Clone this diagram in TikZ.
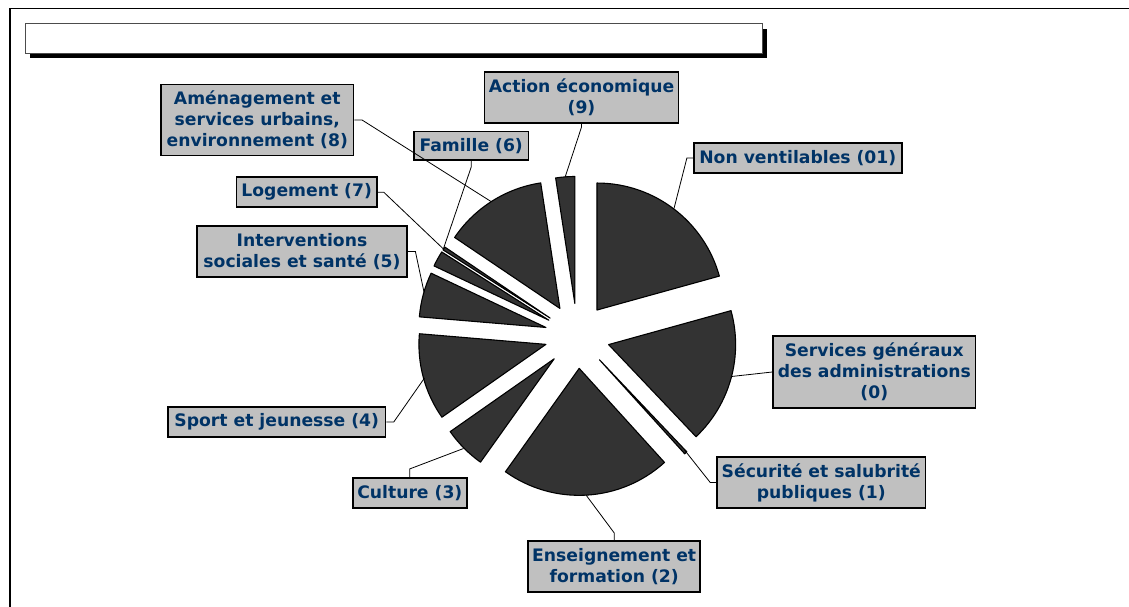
\documentclass[tikz,border=0pt]{standalone}
\usepackage{fontspec}
\setmainfont{DejaVu Sans}
\usetikzlibrary{calc}
\definecolor{navy}{HTML}{003366}
\definecolor{boxgray}{HTML}{C0C0C0}
\definecolor{slicegray}{HTML}{333333}
\newcommand\pieslice[3]{%
  \pgfmathsetmacro\pmid{(#1+#2)/2}%
  \coordinate (#3-tip) at ($(C)+({-\pmid}:32.5)$);%
  \draw[slicest] (#3-tip) -- ++({-#1}:127) arc[start angle={-#1}, end angle={-#2}, radius=127] -- cycle;%
}
\begin{document}
\begin{tikzpicture}[x=1pt,y=-1pt,
  lbl/.style={draw=black,line width=1.8pt,fill=boxgray,text=navy,
    font=\fontsize{17.2}{21}\selectfont\bfseries,align=center,inner sep=0pt},
  lead/.style={draw=black,line width=0.8pt},
  slicest/.style={fill=slicegray,draw=black,line width=1.1pt,line join=round},
  titlebox/.style={draw=gray!60!black,fill=white,line width=1pt,inner sep=0pt}]
\useasboundingbox (0,0) rectangle (1129,607);
\fill[white] (0,0) rectangle (1129,607);
% outer frame
\draw[line width=1.3pt] (10,607) -- (10,8.3) -- (1129,8.3);
% title box with shadow
\fill[black] (30,29) rectangle (767,58.3);
\node[titlebox,minimum width=737pt,minimum height=29.3pt] (title) at (393.5,38.65) {};
% pie
\coordinate (C) at (577.3,335.9);
\pieslice{15.5}{90}{nv}
\pieslice{90}{98.7}{act}
\pieslice{98.7}{146}{ame}
\pieslice{146}{147.5}{fam}
\pieslice{147.5}{154.7}{log}
\pieslice{154.7}{175.2}{int}
\pieslice{175.2}{215}{spo}
\pieslice{215}{234.5}{cul}
\pieslice{234.5}{312.2}{ens}
\pieslice{312.2}{313.5}{sec}
\pieslice{313.5}{375.5}{sg}
% leader end points
\coordinate (e-nv) at (674,208.5);
\coordinate (e-act) at (565.2,176.9);
\coordinate (e-ame) at (491,201.5);
\coordinate (e-fam) at (443.5,248.5);
\coordinate (e-log) at (444,249.5);
\coordinate (e-int) at (424,292);
\coordinate (e-spo) at (424.5,378);
\coordinate (e-cul) at (463.5,448.5);
\coordinate (e-ens) at (586,495);
\coordinate (e-sec) at (684.5,450);
\coordinate (e-sg) at (731.5,376.5);
% labels
\node[lbl,minimum width=208pt,minimum height=29.6pt] (nv) at (797.8,158) {Non ventilables (01)};
\node[lbl,minimum width=194pt,minimum height=50.6pt] (act) at (581.5,97.5) {Action économique\\(9)};
\node[lbl,minimum width=192.3pt,minimum height=71pt] (ame) at (257.3,120) {Aménagement et\\services urbains,\\environnement (8)};
\node[lbl,minimum width=114.7pt,minimum height=28.7pt] (fam) at (471.2,145.8) {Famille (6)};
\node[lbl,minimum width=140.3pt,minimum height=30pt] (log) at (306.7,192.2) {Logement (7)};
\node[lbl,minimum width=209.6pt,minimum height=50.6pt] (int) at (302,251.5) {Interventions\\sociales et santé (5)};
\node[lbl,minimum width=217.7pt,minimum height=29.6pt] (spo) at (276.7,422) {Sport et jeunesse (4)};
\node[lbl,minimum width=114pt,minimum height=30pt] (cul) at (409.8,492.8) {Culture (3)};
\node[lbl,minimum width=172pt,minimum height=50.6pt] (ens) at (614.2,566.5) {Enseignement et\\formation (2)};
\node[lbl,minimum width=208.3pt,minimum height=50.6pt] (sec) at (821.3,482.5) {Sécurité et salubrité\\publiques (1)};
\node[lbl,minimum width=202.3pt,minimum height=71.6pt] (sg) at (874.3,372) {Services généraux\\des administrations\\(0)};
% leaders
\draw[lead] (nv.west) -- ++(-6,0) -- (e-nv);
\draw[lead] (act.south) -- ++(0,3.4) -- (e-act);
\draw[lead] (ame.east) -- ++(7.7,0) -- (e-ame);
\draw[lead] (fam.south) -- ++(0,6) -- (e-fam);
\draw[lead] (log.east) -- ++(6,0) -- (e-log);
\draw[lead] (int.east) -- ++(7.7,0) -- (e-int);
\draw[lead] (spo.east) -- ++(7.3,0) -- (e-spo);
\draw[lead] (cul.north) -- ++(0,-8) -- (e-cul);
\draw[lead] (ens.north) -- ++(0,-7.4) -- (e-ens);
\draw[lead] (sec.west) -- ++(-6,0) -- (e-sec);
\draw[lead] (sg.west) -- (e-sg);
\end{tikzpicture}
\end{document}
